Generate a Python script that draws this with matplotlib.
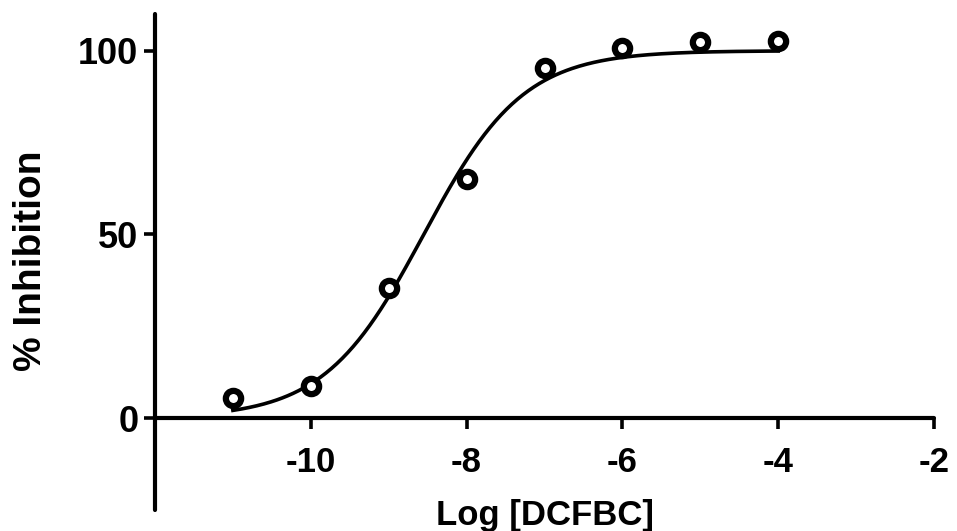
import matplotlib.pyplot as plt
import numpy as np

# measured points (log concentration vs % inhibition)
log_conc = [-11, -10, -9, -8, -7, -6, -5, -4]
inhibition = [5.4, 8.7, 35.3, 65.0, 95.4, 100.8, 102.4, 102.6]

# sigmoidal fit parameters
fit_bottom = 0.0
fit_top = 100.0
fit_log_ic50 = -8.55
fit_hill = 0.68

x_ticks = [-10, -8, -6, -4, -2]
y_ticks = [0, 50, 100]

plt.rcParams['font.family'] = ['Liberation Sans', 'DejaVu Sans']
plt.rcParams['font.weight'] = 'bold'

fig = plt.figure(figsize=(9.57, 5.31), dpi=100)
ax = fig.add_axes([155 / 957, 1 - 510 / 531, (934 - 155) / 957, (510 - 14) / 531])

xs = np.linspace(min(log_conc), max(log_conc), 300)
ys = fit_bottom + (fit_top - fit_bottom) / (1 + 10 ** ((fit_log_ic50 - xs) * fit_hill))
ax.plot(xs, ys, color='black', lw=2.6, zorder=2)
ax.plot(log_conc, inhibition, 'o', ms=11, mfc='white', mec='black', mew=4.5, zorder=3)

ax.set_xlim(-12, -2)
ax.set_ylim(-25, 110)
ax.spines['top'].set_visible(False)
ax.spines['right'].set_visible(False)
ax.spines['bottom'].set_position(('data', 0))
for s in ['left', 'bottom']:
    ax.spines[s].set_linewidth(3.0)
    ax.spines[s].set_capstyle('round')

ax.set_xticks(x_ticks)
ax.set_yticks(y_ticks)
ax.set_xticklabels([str(t) for t in x_ticks])
ax.tick_params(axis='x', length=8, width=2.6, pad=12, labelsize=25)
ax.tick_params(axis='y', length=8, width=2.6, pad=4, labelsize=26)

fig.text(31 / 957, 1 - 261 / 531, '% Inhibition', rotation=90, ha='center', va='center',
         fontsize=28, fontweight='bold')
fig.text(545 / 957, 1 - 516 / 531, 'Log [DCFBC]', ha='center', va='center',
         fontsize=25, fontweight='bold')

fig.savefig('out.png', dpi=100)
